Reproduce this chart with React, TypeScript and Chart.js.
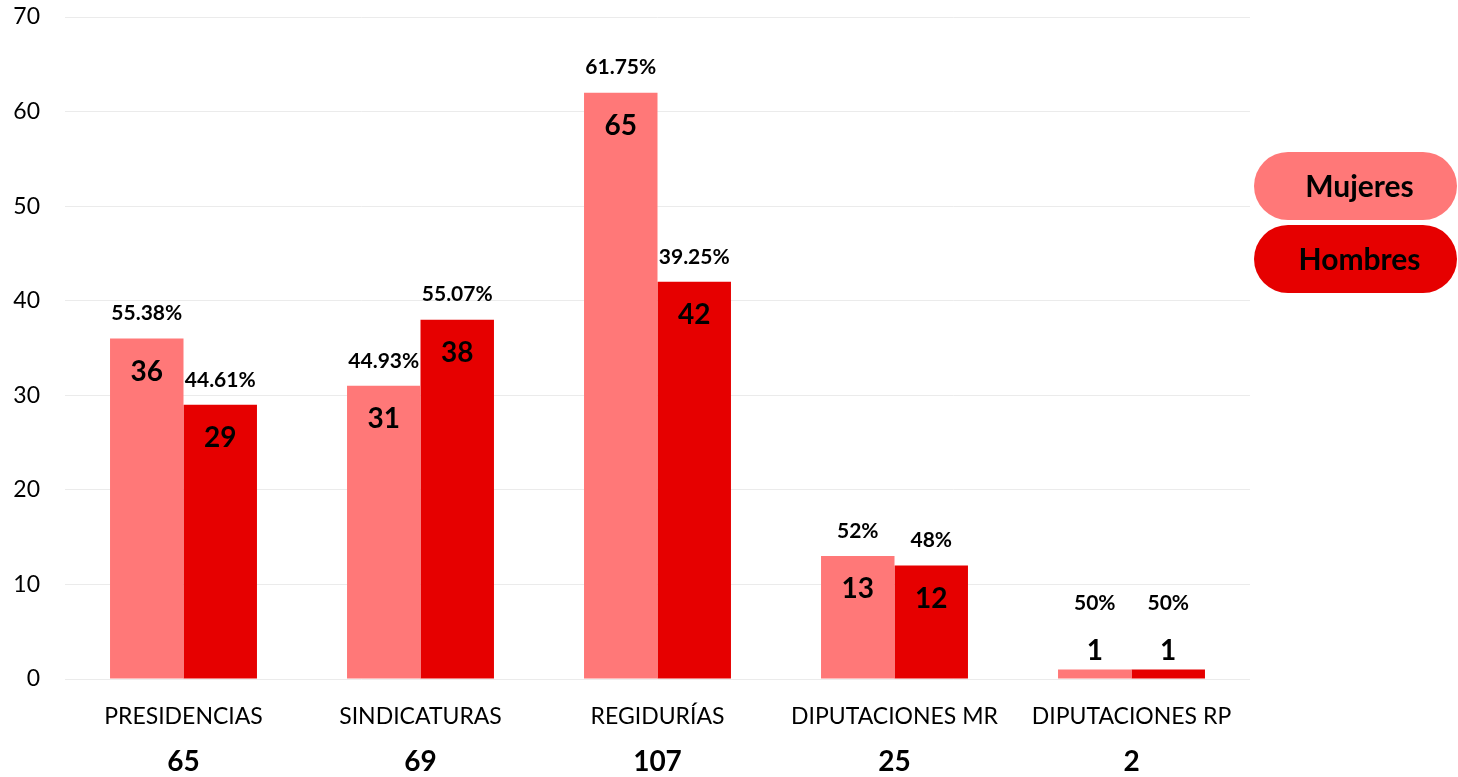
import React, { useEffect, useRef } from "react";
import { Chart, registerables } from "chart.js";

Chart.register(...registerables);

const categories = ["PRESIDENCIAS", "SINDICATURAS", "REGIDURÍAS", "DIPUTACIONES MR", "DIPUTACIONES RP"];
const totals = ["65", "69", "107", "25", "2"];
const mujeres = [36, 31, 62, 13, 1];
const hombres = [29, 38, 42, 12, 1];
const mujeresLabels = ["36", "31", "65", "13", "1"];
const hombresLabels = ["29", "38", "42", "12", "1"];
const mujeresPct = ["55.38%", "44.93%", "61.75%", "52%", "50%"];
const hombresPct = ["44.61%", "55.07%", "39.25%", "48%", "50%"];
const seriesNames = ["Mujeres", "Hombres"];
const seriesColors = ["#FF7878", "#E60000"];

const FONT = "Lato, 'Open Sans', sans-serif";

const labelPlugin = {
  id: "customLabels",
  afterDatasetsDraw(chart: any) {
    const ctx = chart.ctx;
    const valueSets = [mujeresLabels, hombresLabels];
    const pctSets = [mujeresPct, hombresPct];
    ctx.save();
    ctx.fillStyle = "#000";
    ctx.textAlign = "center";
    ctx.textBaseline = "middle";
    for (let d = 0; d < 2; d++) {
      const meta = chart.getDatasetMeta(d);
      meta.data.forEach((el: any, i: number) => {
        const h = el.base - el.y;
        let vy: number;
        let py: number;
        if (h > 45) {
          vy = el.y + 33;
          py = el.y - 25;
        } else {
          vy = el.y - 19;
          py = vy - 47;
        }
        ctx.font = `bold 28px ${FONT}`;
        ctx.fillText(valueSets[d][i], el.x, vy);
        ctx.font = `bold 21px ${FONT}`;
        ctx.fillText(pctSets[d][i], el.x, py);
      });
    }
    const xs = chart.scales.x;
    ctx.font = `bold 28px ${FONT}`;
    totals.forEach((t, i) => {
      ctx.fillText(t, xs.getPixelForValue(i), 762);
    });
    ctx.restore();
  },
  afterDraw(chart: any) {
    const ctx = chart.ctx;
    ctx.save();
    const boxes = [
      { y: 152, h: 68 },
      { y: 225, h: 68 },
    ];
    boxes.forEach((b, i) => {
      const x = 1254;
      const w = 203;
      const r = b.h / 2;
      ctx.beginPath();
      ctx.moveTo(x + r, b.y);
      ctx.lineTo(x + w - r, b.y);
      ctx.arc(x + w - r, b.y + r, r, -Math.PI / 2, Math.PI / 2);
      ctx.lineTo(x + r, b.y + b.h);
      ctx.arc(x + r, b.y + r, r, Math.PI / 2, (3 * Math.PI) / 2);
      ctx.closePath();
      ctx.fillStyle = seriesColors[i];
      ctx.fill();
      ctx.fillStyle = "#000";
      ctx.font = `bold 30px ${FONT}`;
      ctx.textAlign = "center";
      ctx.textBaseline = "middle";
      ctx.fillText(seriesNames[i], x + w / 2 + 4, b.y + r + 1);
    });
    ctx.restore();
  },
};

export default function App() {
  const ref = useRef<HTMLCanvasElement>(null);
  useEffect(() => {
    if (!ref.current) return;
    const chart = new Chart(ref.current, {
      type: "bar",
      data: {
        labels: categories,
        datasets: [
          {
            label: seriesNames[0],
            data: mujeres,
            backgroundColor: seriesColors[0],
            categoryPercentage: 0.62,
            barPercentage: 1,
          },
          {
            label: seriesNames[1],
            data: hombres,
            backgroundColor: seriesColors[1],
            categoryPercentage: 0.62,
            barPercentage: 1,
          },
        ],
      },
      options: {
        responsive: false,
        animation: false,
        devicePixelRatio: 1,
        layout: { padding: { top: 17, right: 208, left: 0, bottom: 0 } },
        plugins: {
          legend: { display: false },
          tooltip: { enabled: false },
        },
        scales: {
          y: {
            min: 0,
            max: 70,
            ticks: { stepSize: 10, color: "#000", font: { size: 23, family: FONT }, padding: 25 },
            grid: { color: "#ebebeb", drawTicks: false },
            border: { display: false },
            afterFit(s: any) {
              s.width = 65;
              s.paddingTop = 0;
              s.paddingBottom = 0;
            },
          },
          x: {
            grid: { display: false, drawTicks: false },
            border: { display: false },
            ticks: { color: "#000", font: { size: 23, family: FONT }, padding: 24, maxRotation: 0, autoSkip: false },
            afterFit(s: any) {
              s.height = 98;
            },
          },
        },
      },
      plugins: [labelPlugin],
    });
    return () => chart.destroy();
  }, []);
  return (
    <div style={{ position: "fixed", left: 0, top: 0, width: 1458, height: 777, background: "#fff" }}>
      <canvas ref={ref} width={1458} height={777} style={{ display: "block" }} />
    </div>
  );
}
